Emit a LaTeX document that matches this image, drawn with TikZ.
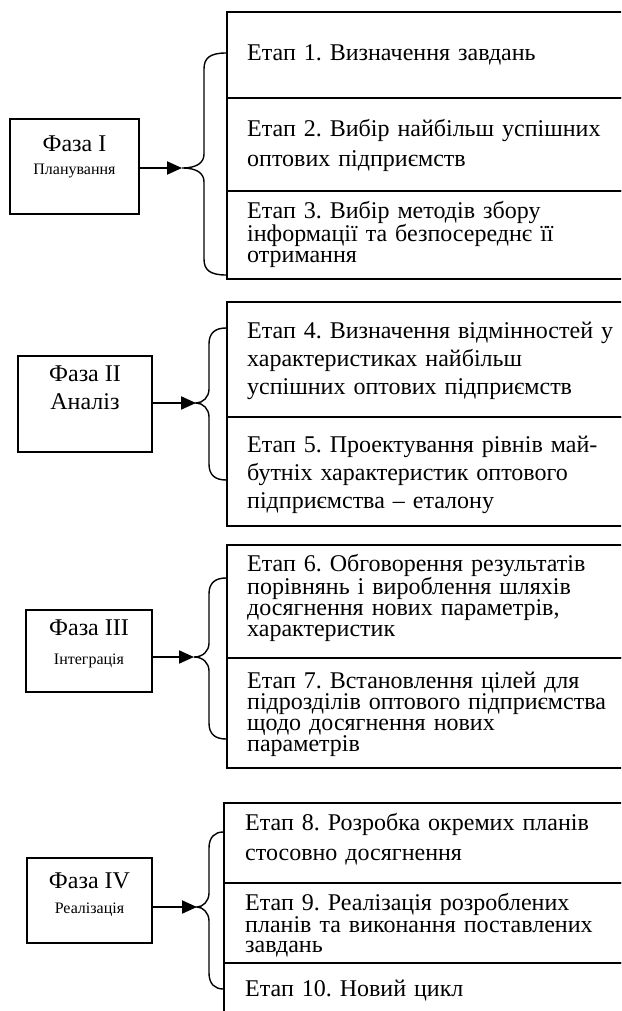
\documentclass[tikz,border=0pt]{standalone}
\usepackage{fontspec}
\setmainfont{Liberation Serif}
\usetikzlibrary{arrows.meta}
\setlength\lineskiplimit{-50pt}
\frenchspacing
\newcommand\jline[1]{\makebox[366pt][s]{#1}}
\begin{document}
\begin{tikzpicture}[x=1pt,y=-1pt,
  rowbox/.style={draw, line width=1.6pt, inner sep=0pt},
  phasebox/.style={draw, line width=1.6pt, inner sep=0pt},
  bracepath/.style={line width=1.4pt},
  link/.style={line width=2pt, -{Triangle[length=15pt,width=13pt]}},
  etext/.style={anchor=base west, inner sep=0pt, text width=366pt, align=left},
  bigtext/.style={anchor=base, inner sep=0pt, font=\fontsize{24}{28}\selectfont},
  smalltext/.style={anchor=base, inner sep=0pt, font=\fontsize{16}{19}\selectfont}
]
\useasboundingbox (0,0) rectangle (621,1011);
\clip (0,0) rectangle (621,1011);

% ---------- Phase I ----------
\node[phasebox, minimum width=129pt, minimum height=95pt] (p1) at (74.5,166.5) {};
\node[bigtext] (p1a) at (74.5,152) {Фаза I};
\node[smalltext] (p1b) at (74.5,175) {Планування};
\node[rowbox, minimum width=413pt, minimum height=86pt] (r1) at (433.5,55) {};
\node[rowbox, minimum width=413pt, minimum height=93pt] (r2) at (433.5,144.5) {};
\node[rowbox, minimum width=413pt, minimum height=88pt] (r3) at (433.5,235) {};
\node[etext, font=\fontsize{24}{30}\selectfont] (t1) at (247,61) {Етап 1. Визначення завдань};
\node[etext, font=\fontsize{24}{30}\selectfont] (t2) at (247,137) {\jline{Етап 2. Вибір найбільш успішних}\\оптових підприємств};
\node[etext, font=\fontsize{24}{21}\selectfont] (t3) at (247,218) {\jline{Етап 3. Вибір методів збору}\\\jline{інформації та безпосереднє її}\\отримання};
\coordinate (tip1) at (182,168);
\draw[bracepath] (r1.west |- 0,53) .. controls (210,53) and (204,58) .. (204,69) -- (204,154) .. controls (204,162) and (198,168) .. (tip1) .. controls (198,168) and (204,174) .. (204,182) -- (204,259) .. controls (204,270) and (210,275) .. (r3.west |- 0,275);
\draw[link] (p1.east |- tip1) -- (tip1);

% ---------- Phase II ----------
\node[phasebox, minimum width=134pt, minimum height=96pt] (p2) at (85,404) {};
\node[bigtext] (p2a) at (85,381) {Фаза II};
\node[bigtext] (p2b) at (85,409) {Аналіз};
\node[rowbox, minimum width=413pt, minimum height=115pt] (r4) at (433.5,359.5) {};
\node[rowbox, minimum width=413pt, minimum height=109pt] (r5) at (433.5,471.5) {};
\node[etext, font=\fontsize{24}{28}\selectfont] (t4) at (247,338) {\jline{Етап 4. Визначення відмінностей у}\\\jline{характеристиках найбільш}\\успішних оптових підприємств};
\node[etext, font=\fontsize{24}{28}\selectfont] (t5) at (247,452) {\jline{Етап 5. Проектування рівнів май-}\\\jline{бутніх характеристик оптового}\\підприємства – еталону};
\coordinate (tip2) at (196,403);
\draw[bracepath] (r4.west |- 0,328) .. controls (215,328) and (209,333) .. (209,344) -- (209,389) .. controls (209,397) and (203,403) .. (tip2) .. controls (203,403) and (209,409) .. (209,417) -- (209,464) .. controls (209,475) and (215,480) .. (r5.west |- 0,480);
\draw[link] (p2.east |- tip2) -- (tip2);

% ---------- Phase III ----------
\node[phasebox, minimum width=126pt, minimum height=82pt] (p3) at (89,651) {};
\node[bigtext] (p3a) at (89,635) {Фаза III};
\node[smalltext] (p3b) at (89,664) {Інтеграція};
\node[rowbox, minimum width=413pt, minimum height=113pt] (r6) at (433.5,601.5) {};
\node[rowbox, minimum width=413pt, minimum height=110pt] (r7) at (433.5,713) {};
\node[etext, font=\fontsize{24}{21}\selectfont] (t6) at (247,571) {\jline{Етап 6. Обговорення результатів}\\\jline{порівнянь і вироблення шляхів}\\\jline{досягнення нових параметрів,}\\характеристик};
\node[etext, font=\fontsize{24}{21}\selectfont] (t7) at (247,688) {Етап 7. Встановлення цілей для\\підрозділів оптового підприємства\\щодо досягнення нових\\параметрів};
\coordinate (tip3) at (194,657);
\draw[bracepath] (r6.west |- 0,578) .. controls (215,578) and (209,583) .. (209,594) -- (209,643) .. controls (209,651) and (203,657) .. (tip3) .. controls (203,657) and (209,663) .. (209,671) -- (209,723) .. controls (209,734) and (215,739) .. (r7.west |- 0,739);
\draw[link] (p3.east |- tip3) -- (tip3);

% ---------- Phase IV ----------
\node[phasebox, minimum width=125pt, minimum height=85pt] (p4) at (89.5,900.5) {};
\node[bigtext] (p4a) at (89.5,888) {Фаза IV};
\node[smalltext] (p4b) at (89.5,913) {Реалізація};
\node[rowbox, minimum width=416pt, minimum height=80pt] (r8) at (432,843) {};
\node[rowbox, minimum width=416pt, minimum height=80pt] (r9) at (432,923) {};
\node[rowbox, minimum width=416pt, minimum height=67pt] (r10) at (432,996.5) {};
\node[etext, font=\fontsize{24}{30}\selectfont] (t8) at (245,830) {Етап 8. Розробка окремих планів\\стосовно досягнення};
\node[etext, font=\fontsize{24}{20}\selectfont] (t9) at (245,910) {\jline{Етап 9. Реалізація розроблених}\\\jline{планів та виконання поставлених}\\завдань};
\node[etext, font=\fontsize{24}{30}\selectfont] (t10) at (245,996) {Етап 10. Новий цикл};
\coordinate (tip4) at (197,907);
\draw[bracepath] (r8.west |- 0,832) .. controls (215,832) and (209,837) .. (209,848) -- (209,893) .. controls (209,901) and (203,907) .. (tip4) .. controls (203,907) and (209,913) .. (209,921) -- (209,973) .. controls (209,984) and (215,989) .. (r10.west |- 0,989);
\draw[link] (p4.east |- tip4) -- (tip4);
\end{tikzpicture}
\end{document}
